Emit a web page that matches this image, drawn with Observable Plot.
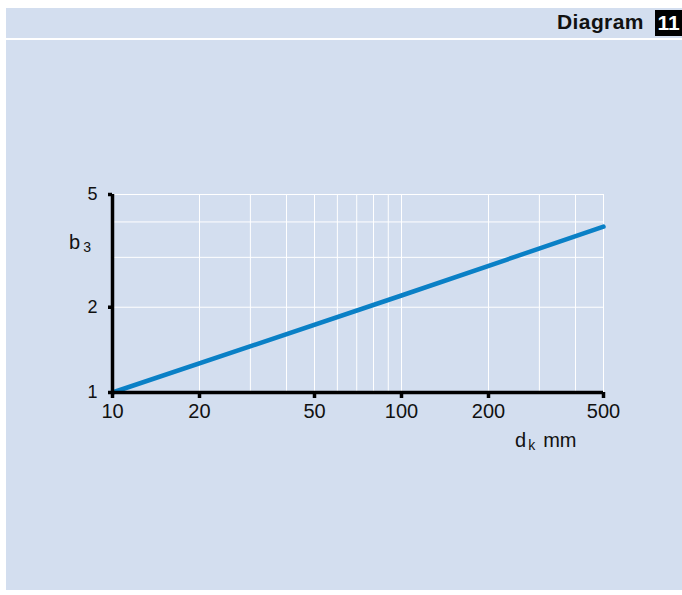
<!DOCTYPE html>
<html>
<head>
<meta charset="utf-8">
<script src="https://cdn.jsdelivr.net/npm/d3@7"></script>
<script src="https://cdn.jsdelivr.net/npm/@observablehq/plot@0.6"></script>
<style>
  html, body { margin: 0; padding: 0; background: #ffffff; }
  #page { position: relative; width: 682px; height: 595px; overflow: hidden; font-family: "Liberation Sans", Arial, sans-serif; }
  #panel { position: absolute; left: 6px; top: 8px; width: 676px; height: 582px; background: #d3deef; }
  #rule { position: absolute; left: 6px; top: 38px; width: 676px; height: 2px; background: #ffffff; }
  #title { position: absolute; left: 557px; top: 10px; font-weight: bold; font-size: 21px; letter-spacing: 0.4px; color: #111; }
  #badge { position: absolute; left: 655px; top: 10px; width: 27px; height: 26px; background: #000; color: #fff; font-weight: bold; font-size: 21px; text-align: center; line-height: 26px; }
  #chart { position: absolute; left: 0; top: 0; }
</style>
</head>
<body>
<div id="page">
  <div id="panel"></div>
  <div id="rule"></div>
  <div id="title">Diagram</div>
  <div id="badge">11</div>
  <div id="chart"></div>
</div>
<script>
const xTicks = [10, 20, 50, 100, 200, 500];
const yTicks = [1, 2, 5];
const xGrid = [20, 30, 40, 50, 60, 70, 80, 90, 100, 200, 300, 400, 500];
const yGrid = [2, 3, 4, 5];
const dk = [10, 100, 500];
const b3 = [1, 2.2, 3.85];

const points = dk.map((d, i) => ({x: d, y: b3[i]}));

const plot = Plot.plot({
  width: 682,
  height: 595,
  marginLeft: 112,
  marginRight: 79,
  marginTop: 194,
  marginBottom: 203,
  style: {fontFamily: "'Liberation Sans', Arial, sans-serif", background: "transparent", color: "#111"},
  x: {type: "log", domain: [10, 500], axis: null},
  y: {type: "log", domain: [1, 5], axis: null},
  marks: [
    Plot.gridX(xGrid, {stroke: "#ffffff", strokeOpacity: 1, strokeWidth: 1}),
    Plot.gridY(yGrid, {stroke: "#ffffff", strokeOpacity: 1, strokeWidth: 1}),
    Plot.line(points, {x: "x", y: "y", stroke: "#0a80c6", strokeWidth: 4.5}),
    Plot.ruleX([10], {stroke: "#000", strokeWidth: 3.5}),
    Plot.ruleY([1], {stroke: "#000", strokeWidth: 3.5}),
    Plot.axisX(xTicks, {tickSize: 6, strokeWidth: 3.5, stroke: "#000", tickFormat: () => "", label: null}),
    Plot.axisY(yTicks, {tickSize: 4, strokeWidth: 3.5, stroke: "#000", tickFormat: () => "", label: null}),
    Plot.text(xTicks, {x: d => d, frameAnchor: "bottom", dy: 25, text: d => String(d), fontSize: 20, fill: "#111"}),
    Plot.text(yTicks, {y: d => d, frameAnchor: "left", dx: -15, textAnchor: "end", text: d => String(d), fontSize: 18, fill: "#111"})
  ]
});
document.getElementById("chart").appendChild(plot);

const svg = d3.select(plot);
const yl = svg.append("text").attr("x", 69).attr("y", 249).attr("font-size", 20).attr("text-anchor", "start").attr("fill", "#111");
yl.append("tspan").text("b");
yl.append("tspan").attr("dx", 3).attr("dy", 3).attr("font-size", 14).text("3");

const xl = svg.append("text").attr("x", 515).attr("y", 447).attr("font-size", 20).attr("text-anchor", "start").attr("fill", "#111");
xl.append("tspan").text("d");
xl.append("tspan").attr("dx", 2).attr("dy", 3).attr("font-size", 14).text("k");
xl.append("tspan").attr("dx", 8).attr("dy", -3).text("mm");
</script>
</body>
</html>
